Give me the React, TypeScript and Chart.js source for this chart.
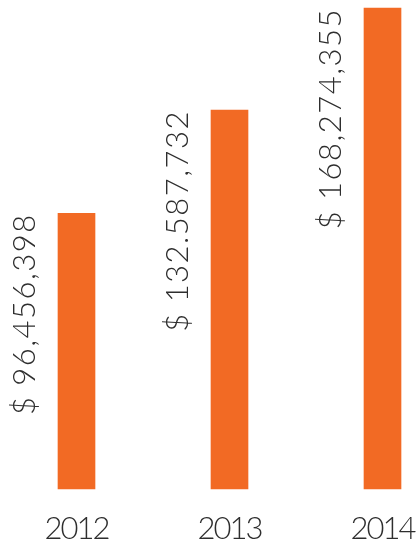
import React, { useEffect, useRef } from 'react';
import { Chart, registerables } from 'chart.js';

Chart.register(...registerables);

const years = ['2012', '2013', '2014'];
const revenue = [96456398, 132587732, 168274355];
const revenueLabels = ['$ 96,456,398', '$ 132.587,732', '$ 168,274,355'];

const BAR_COLOR = '#F26A24';
const TEXT_COLOR = '#2E2E2E';
const FONT = 'Lato, "Open Sans", sans-serif';

const letterSpacingPlugin = {
  id: 'tickLetterSpacing',
  beforeDraw(chart: any) {
    (chart.ctx as any).letterSpacing = '-2px';
  },
};

const valueLabelPlugin = {
  id: 'valueLabels',
  afterDatasetsDraw(chart: any) {
    const ctx = chart.ctx as CanvasRenderingContext2D;
    const meta = chart.getDatasetMeta(0);
    ctx.save();
    ctx.fillStyle = TEXT_COLOR;
    ctx.font = `300 31px ${FONT}`;
    (ctx as any).letterSpacing = '1.5px';
    ctx.textAlign = 'right';
    ctx.textBaseline = 'alphabetic';
    meta.data.forEach((bar: any, i: number) => {
      ctx.save();
      ctx.translate(bar.x - 42, bar.y);
      ctx.rotate(-Math.PI / 2);
      ctx.fillText(revenueLabels[i], 0, 0);
      ctx.restore();
    });
    ctx.restore();
  },
};

export default function App() {
  const canvasRef = useRef<HTMLCanvasElement | null>(null);

  useEffect(() => {
    const canvas = canvasRef.current;
    if (!canvas) return;
    const chart = new Chart(canvas, {
      type: 'bar',
      data: {
        labels: years,
        datasets: [
          {
            data: revenue,
            backgroundColor: BAR_COLOR,
            borderWidth: 0,
            barThickness: 37,
            clip: false as any,
          },
        ],
      },
      options: {
        animation: false,
        responsive: true,
        maintainAspectRatio: false,
        layout: { padding: { left: 76.5, right: 34.5, top: 8, bottom: 0 } },
        plugins: {
          legend: { display: false },
          tooltip: { enabled: false },
        },
        scales: {
          x: {
            offset: false,
            grid: { display: false },
            border: { display: false },
            afterFit: (scale: any) => {
              scale.paddingLeft = 0;
              scale.paddingRight = 0;
              scale.height = 63;
            },
            ticks: {
              color: TEXT_COLOR,
              padding: 13,
              maxRotation: 0,
              autoSkip: false,
              font: { family: FONT, size: 31, weight: '300' as any },
            },
          },
          y: {
            display: false,
            min: 0,
            max: 168274355,
          },
        },
      },
      plugins: [letterSpacingPlugin, valueLabelPlugin],
    });
    return () => chart.destroy();
  }, []);

  return (
    <div style={{ position: 'fixed', left: 0, top: 0, width: 417, height: 552, background: '#fff' }}>
      <canvas ref={canvasRef} />
    </div>
  );
}
